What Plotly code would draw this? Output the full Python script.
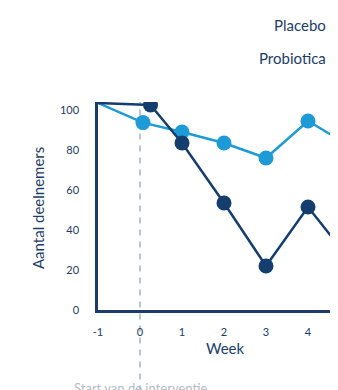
import plotly.graph_objects as go

# ---- data ----
weeks_placebo = [-1, 0.25, 1, 2, 3, 4, 5]
placebo = [103.5, 102.5, 83.5, 53.5, 22, 51.5, 25]
weeks_probiotica = [-1, 0.07, 1, 2, 3, 4, 5]
probiotica = [103.5, 93.7, 89, 83.5, 76, 94.5, 82]
y_ticks = [0, 20, 40, 60, 80, 100]
x_ticks = [-1, 0, 1, 2, 3, 4]
series_names = ["Placebo", "Probiotica"]

NAVY = "#1b3d68"
DARK = "#143e6e"
LIGHT = "#1e9ad6"
FONT = "Lato"

fig = go.Figure()

def sizes(n):
    return [0] + [15] * (n - 1)

fig.add_trace(go.Scatter(
    x=weeks_probiotica, y=probiotica, mode="lines+markers", name=series_names[1],
    line=dict(color=LIGHT, width=2.5),
    marker=dict(color=LIGHT, size=sizes(len(probiotica)), opacity=1, line=dict(width=0)),
    showlegend=False, cliponaxis=True))
fig.add_trace(go.Scatter(
    x=weeks_placebo, y=placebo, mode="lines+markers", name=series_names[0],
    line=dict(color=DARK, width=2.5),
    marker=dict(color=DARK, size=sizes(len(placebo)), opacity=1, line=dict(width=0)),
    showlegend=False, cliponaxis=True))

# dashed intervention line
fig.add_shape(type="line", xref="x", yref="paper", x0=0, x1=0, y0=-0.45, y1=1.0,
              line=dict(color="#b9c6d4", width=2, dash="6px,6px"), layer="below")

# legend labels (their markers fall outside the visible area)
fig.add_annotation(text=series_names[0], xref="paper", yref="paper", x=0.958, y=1.37,
                   xanchor="right", yanchor="middle", showarrow=False,
                   font=dict(family=FONT, size=15, color=NAVY))
fig.add_annotation(text=series_names[1], xref="paper", yref="paper", x=0.958, y=1.21,
                   xanchor="right", yanchor="middle", showarrow=False,
                   font=dict(family=FONT, size=15, color=NAVY))
# axis titles
fig.add_annotation(text="Aantal deelnemers", xref="paper", yref="paper", x=-0.25, y=0.49,
                   textangle=-90, xanchor="center", yanchor="middle", showarrow=False,
                   font=dict(family=FONT, size=15, color=NAVY))
fig.add_annotation(text="Week", xref="paper", yref="paper", x=0.53, y=-0.183,
                   xanchor="center", yanchor="middle", showarrow=False,
                   font=dict(family=FONT, size=15, color=NAVY))
fig.add_annotation(text="Start van de interventie", xref="x", yref="paper", x=0, y=-0.375,
                   xanchor="center", yanchor="middle", showarrow=False,
                   font=dict(family=FONT, size=13, color="#b4bcc6"))

fig.update_layout(
    width=330, height=382,
    margin=dict(l=90, r=0, t=94, b=80),
    paper_bgcolor="white", plot_bgcolor="white",
    font=dict(family=FONT, color=NAVY),
    xaxis=dict(range=[-1, 4.714], tickvals=x_ticks, ticktext=[str(v) for v in x_ticks],
               showgrid=False, zeroline=False, showline=True, linecolor=NAVY, linewidth=2.5,
               ticks="", ticklabelstandoff=10, tickfont=dict(family=FONT, size=11, color=NAVY)),
    yaxis=dict(range=[0, 104], tickvals=y_ticks, showgrid=False, zeroline=False,
               showline=True, linecolor=NAVY, linewidth=2.5, ticks="", ticklabelstandoff=14,
               tickfont=dict(family=FONT, size=11, color=NAVY)),
)

fig.write_html("out.html")
